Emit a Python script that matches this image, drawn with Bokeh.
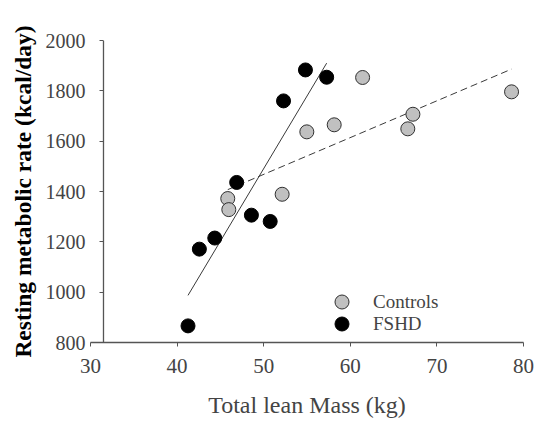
import numpy as np
from bokeh.plotting import figure
from bokeh.models import Span, Legend, LegendItem, FixedTicker, Title
from bokeh.embed import file_html
from bokeh.resources import INLINE

# Total lean mass (kg) and resting metabolic rate (kcal/day)
controls_mass = [45.85, 45.97, 52.13, 54.98, 58.14, 61.42, 66.64, 67.23, 78.62]
controls_rmr = [1372, 1328, 1389, 1637, 1665, 1853, 1649, 1707, 1796]

fshd_mass = [41.26, 42.57, 44.35, 46.88, 48.58, 50.75, 52.29, 54.82, 57.27]
fshd_rmr = [866, 1171, 1215, 1436, 1306, 1281, 1760, 1883, 1854]

x_ticks = [30, 40, 50, 60, 70, 80]
y_ticks = [800, 1000, 1200, 1400, 1600, 1800, 2000]

FONT = "Liberation Serif"
AXIS_GREY = "#555555"

p = figure(width=535, height=422, output_backend="svg", toolbar_location=None,
           x_range=(30, 80), y_range=(800, 2000),
           min_border_left=90, min_border_right=12,
           min_border_top=40, min_border_bottom=80)
p.outline_line_color = None
p.grid.visible = False
p.background_fill_color = "white"
p.border_fill_color = "white"

# least-squares fits over each group's range
def fit_line(xs, ys):
    slope, icpt = np.polyfit(xs, ys, 1)
    x_end = np.array([min(xs), max(xs)])
    return x_end, slope * x_end + icpt

fx, fy = fit_line(fshd_mass, fshd_rmr)
cx, cy = fit_line(controls_mass, controls_rmr)
p.line(fx, fy, line_color="#3a3a3a", line_width=1)
p.line(cx, cy, line_color="#3a3a3a", line_width=1, line_dash="7 4")

r_ctrl = p.scatter(controls_mass, controls_rmr, size=14, marker="circle",
                   fill_color="#c0c0c0", line_color="#303030", line_width=1)
r_fshd = p.scatter(fshd_mass, fshd_rmr, size=14, marker="circle",
                   fill_color="black", line_color="black", line_width=1)

# vertical axis line sits slightly right of x = 30
p.add_layout(Span(location=31.5, dimension="height", line_color=AXIS_GREY, line_width=1.3))

xa = p.xaxis[0]
xa.ticker = FixedTicker(ticks=x_ticks)
xa.axis_label = "Total lean Mass (kg)"
xa.axis_label_text_font = FONT
xa.axis_label_text_font_style = "normal"
xa.axis_label_text_font_size = "24px"
xa.axis_label_standoff = 16
xa.major_label_text_font = FONT
xa.major_label_text_font_size = "21px"
xa.major_label_standoff = 12
xa.axis_line_color = AXIS_GREY
xa.axis_line_width = 1.3
xa.major_tick_line_color = AXIS_GREY
xa.major_tick_in = 0
xa.major_tick_out = 4
xa.minor_tick_line_color = None

ya = p.yaxis[0]
ya.ticker = FixedTicker(ticks=y_ticks)
ya.major_label_text_font = FONT
ya.major_label_text_font_size = "20px"
ya.major_label_standoff = 5
ya.axis_line_color = None
ya.major_tick_line_color = AXIS_GREY
ya.major_tick_in = 13
ya.major_tick_out = -9
ya.minor_tick_line_color = None

# y-axis title as a side title, nudged a little above the frame centre
p.add_layout(Title(text="Resting metabolic rate (kcal/day)", align="center",
                   offset=5, standoff=13,
                   text_font=FONT, text_font_style="bold", text_font_size="23.5px",
                   text_color="black"), "left")

# one single-item legend per group so the two rows sit close together
def make_legend(label, renderer, bottom):
    lg = Legend(items=[LegendItem(label=label, renderers=[renderer])],
                location=(234, bottom), orientation="vertical",
                border_line_color=None, background_fill_alpha=0,
                glyph_width=35, glyph_height=35, label_standoff=14,
                padding=0, margin=0, label_height=20)
    lg.label_text_font = FONT
    lg.label_text_font_size = "19px"
    return lg

p.add_layout(make_legend("Controls", r_ctrl, 23))
p.add_layout(make_legend("FSHD", r_fshd, 1))

open("out.html", "w").write(file_html(p, INLINE))
